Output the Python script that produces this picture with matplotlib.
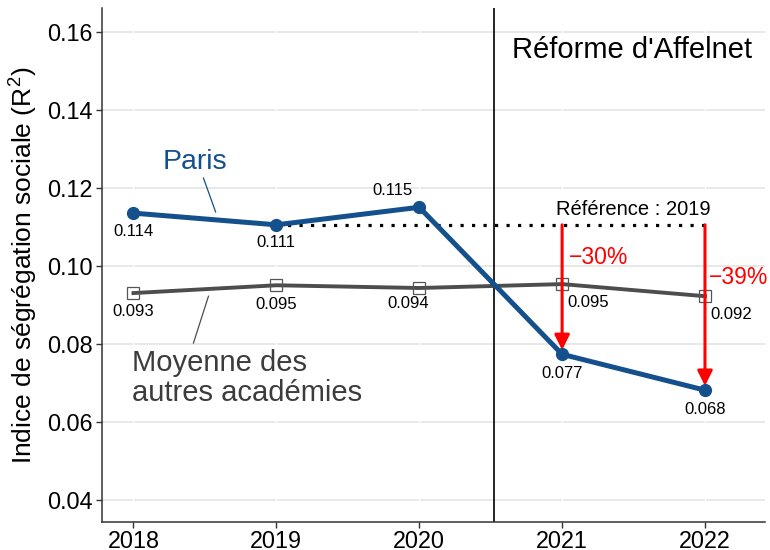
import matplotlib
matplotlib.use("Agg")
import matplotlib.pyplot as plt

plt.rcParams['font.family'] = ['Liberation Sans', 'DejaVu Sans']
plt.rcParams['mathtext.fontset'] = 'custom'
plt.rcParams['mathtext.rm'] = 'Liberation Sans'
plt.rcParams['mathtext.it'] = 'Liberation Sans'

years = [2018, 2019, 2020, 2021, 2022]
paris = [0.1136, 0.1106, 0.1151, 0.0774, 0.0682]
autres = [0.0931, 0.0951, 0.0944, 0.0954, 0.0923]
paris_labels = ["0.114", "0.111", "0.115", "0.077", "0.068"]
autres_labels = ["0.093", "0.095", "0.094", "0.095", "0.092"]
ref_year = 2019
reform_x = 2020.52
pct_years = [2021, 2022]
pct_labels = ["\u221230%", "\u221239%"]
yticks = [0.04, 0.06, 0.08, 0.10, 0.12, 0.14, 0.16]
ytick_labels = ["0.04", "0.06", "0.08", "0.10", "0.12", "0.14", "0.16"]

blue = "#14508c"
grey = "#4d4d4d"

fig = plt.figure(figsize=(7.7, 5.5), dpi=100)
ax = fig.add_axes([0.1325, 0.0509, 0.861, 0.9346])
ax.set_xlim(2017.78, 2022.42)
ax.set_ylim(0.0344, 0.1662)

# grid
for y in yticks:
    ax.axhline(y, color="#e6e6e6", lw=1.3, zorder=0)
for x in years:
    ax.axvline(x, color="white", lw=1.0, zorder=0.5)

# reform line
ax.axvline(reform_x, color="black", lw=1.2, zorder=1)

# reference dotted line
ref_val = paris[years.index(ref_year)]
ax.plot([ref_year, years[-1]], [ref_val, ref_val], color="black", lw=2.3,
        linestyle=(0, (1.0, 2.6)), zorder=2, dash_capstyle='butt')

# series
ax.plot(years, autres, color=grey, lw=2.8, zorder=3)
ax.plot(years, autres, linestyle="none", marker="s", ms=9, mfc="none",
        mec="#555555", mew=0.9, zorder=4)
ax.plot(years, paris, color=blue, lw=3.6, marker="o", ms=8.5, zorder=5)

# arrows
for yr, lab in zip(pct_years, pct_labels):
    v = paris[years.index(yr)]
    ax.annotate("", xy=(yr, v + 0.0011), xytext=(yr, ref_val),
                arrowprops=dict(arrowstyle="-|>,head_length=0.9,head_width=0.45",
                                color="red", lw=2.2, shrinkA=0, shrinkB=0),
                zorder=6)

ax.text(2021.05, 0.1023, pct_labels[0], color="red", fontsize=16.5,
        ha="left", va="center", zorder=7)
ax.text(2022.03, 0.0972, pct_labels[1], color="red", fontsize=16.5,
        ha="left", va="center", zorder=7)

# data labels (offsets in points)
paris_off = [(0, -13), (0, -13), (-19, 12), (0, -14), (0, -14)]
autres_off = [(0, -13), (0, -14), (-8, -11), (19, -13), (19, -13)]
for x, v, lab, off in zip(years, paris, paris_labels, paris_off):
    ax.annotate(lab, (x, v), xytext=off, textcoords="offset points",
                ha="center", va="center", fontsize=12, zorder=8)
for x, v, lab, off in zip(years, autres, autres_labels, autres_off):
    ax.annotate(lab, (x, v), xytext=off, textcoords="offset points",
                ha="center", va="center", fontsize=12, zorder=8)

# titles / labels
ax.text(2021.49, 0.1554, "Réforme d'Affelnet", fontsize=21, ha="center",
        va="center", color="black")
ax.text(2021.5, 0.1144, "Référence : 2019", fontsize=14.5, ha="center",
        va="center", color="black", zorder=7)
ax.text(2018.43, 0.1267, "Paris", fontsize=20.5, color=blue, ha="center",
        va="center")
ax.plot([2018.49, 2018.575], [0.1226, 0.1139], color=blue, lw=0.9)
ax.text(2017.99, 0.0713, "Moyenne des\nautres académies", fontsize=21,
        color="#3c3c3c", ha="left", va="center", linespacing=1.06)
ax.plot([2018.525, 2018.42], [0.0923, 0.0803], color=grey, lw=0.9)

ax.set_ylabel("Indice de ségrégation sociale (R$^2$)", fontsize=19, labelpad=5)

ax.set_xticks(years)
ax.set_xticklabels([str(y) for y in years], fontsize=16.8)
ax.set_yticks(yticks)
ax.set_yticklabels(ytick_labels, fontsize=16.8)
ax.tick_params(axis="both", length=4, width=1, color="#333333", pad=3)
ax.tick_params(axis="x", pad=2)

for s in ["top", "right"]:
    ax.spines[s].set_visible(False)
for s in ["left", "bottom"]:
    ax.spines[s].set_linewidth(1.1)
    ax.spines[s].set_color("#333333")

fig.savefig("out.png", dpi=100)
